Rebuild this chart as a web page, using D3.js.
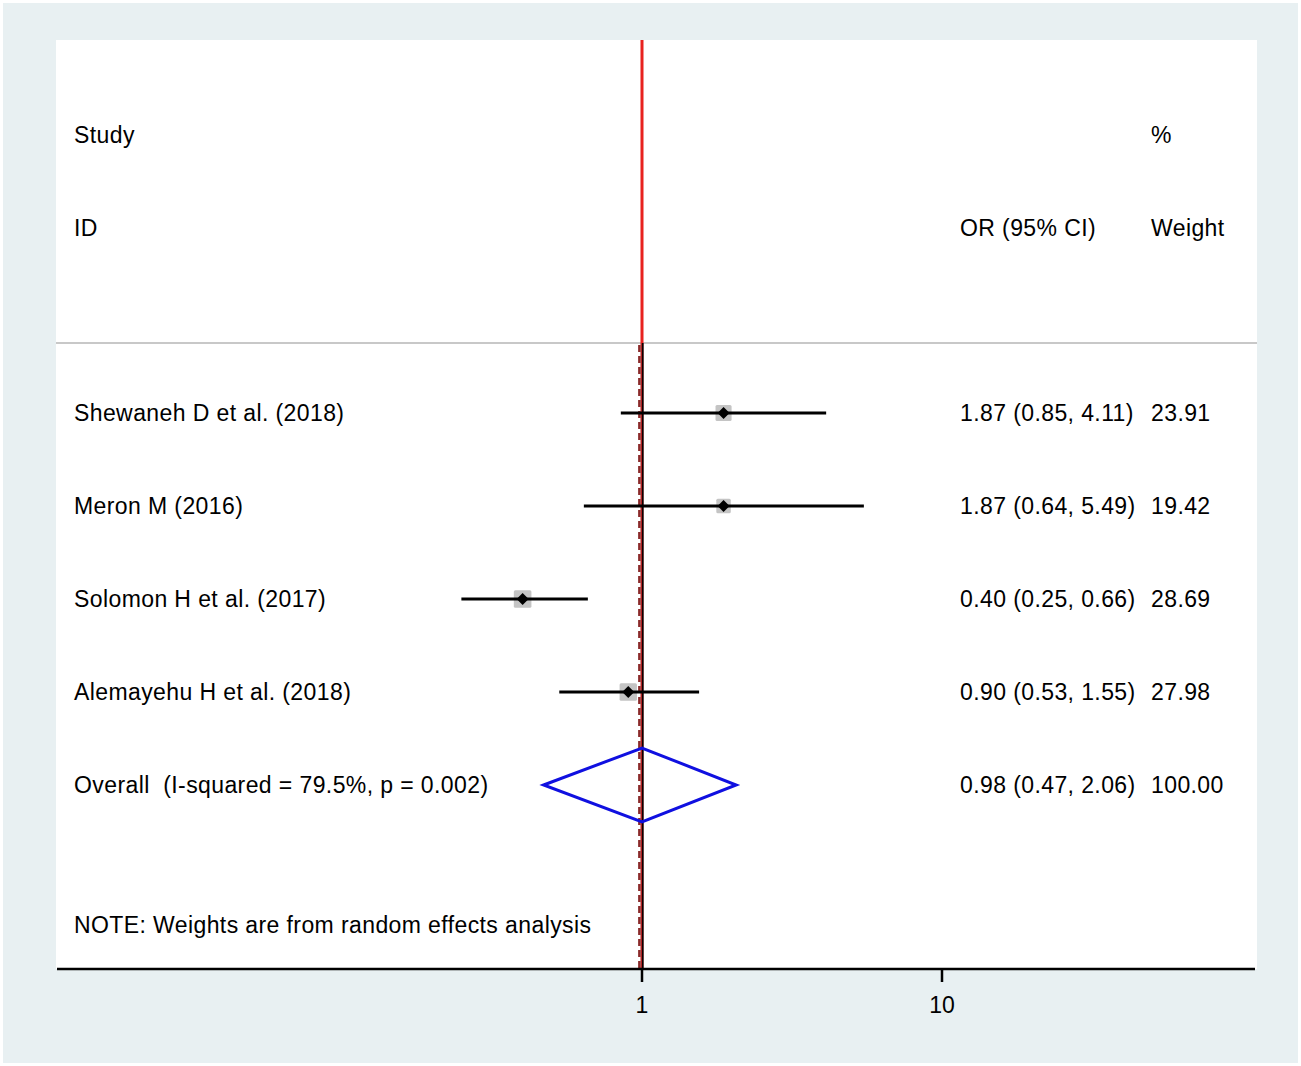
<!DOCTYPE html>
<html><head><meta charset="utf-8">
<script src="https://cdn.jsdelivr.net/npm/d3@7"></script>
<style>body{margin:0;background:#fff;}svg{display:block;font-family:"Liberation Sans",Arial,Helvetica,sans-serif;}text{white-space:pre;}</style>
</head><body>
<svg id="c" width="1301" height="1066"></svg>
<script>
const studies = ["Shewaneh D et al. (2018)", "Meron M (2016)", "Solomon H et al. (2017)", "Alemayehu H et al. (2018)"];
const or = [1.87, 1.87, 0.40, 0.90];
const lo = [0.85, 0.64, 0.25, 0.53];
const hi = [4.11, 5.49, 0.66, 1.55];
const weights = [23.91, 19.42, 28.69, 27.98];
const overallLabel = "Overall  (I-squared = 79.5%, p = 0.002)";
const overall = {or: 0.98, lo: 0.47, hi: 2.06, w: "100.00"};
const tickVals = [1, 10];

const svg = d3.select("#c");
svg.append("rect").attr("x",3).attr("y",3).attr("width",1295).attr("height",1060).attr("fill","#e8f0f2");
svg.append("rect").attr("x",56).attr("y",40).attr("width",1201).attr("height",929).attr("fill","#fff");

const x = d3.scaleLog().domain([1,10]).range([642,942]);
const rowY = d3.scaleLinear().domain([0,1]).range([413,506]);
const fs = 23;

function txt(s, xx, yy, anchor){
  svg.append("text").attr("x",xx).attr("y",yy).attr("dy","0.33em").attr("font-size",fs).attr("fill","#000")
    .attr("letter-spacing",0.4).attr("text-anchor",anchor||"start").text(s);
}
txt("Study",74,135); txt("ID",74,228); txt("%",1151,135); txt("OR (95% CI)",960,228); txt("Weight",1151,228);

// separator
svg.append("line").attr("x1",56).attr("x2",1257).attr("y1",343).attr("y2",343).attr("stroke","#c8c8c8").attr("stroke-width",2);

// null line
svg.append("line").attr("x1",x(1)).attr("x2",x(1)).attr("y1",40).attr("y2",343).attr("stroke","#e8221f").attr("stroke-width",3);
svg.append("line").attr("x1",x(1)).attr("x2",x(1)).attr("y1",343).attr("y2",969).attr("stroke","#b02020").attr("stroke-width",3);
svg.append("line").attr("x1",x(1)+0.8).attr("x2",x(1)+0.8).attr("y1",343).attr("y2",969).attr("stroke","#000").attr("stroke-width",1.5);
// overall dashed line
svg.append("line").attr("x1",x(overall.or)).attr("x2",x(overall.or)).attr("y1",345).attr("y2",969)
  .attr("stroke","#8a2a2a").attr("stroke-width",2.5).attr("stroke-dasharray","7,4");

const fmt = d3.format(".2f");
const sz = d3.scaleSqrt().domain([0,30]).range([0,18]);
studies.forEach((s,i)=>{
  const y = rowY(i);
  txt(s,74,y);
  txt(`${fmt(or[i])} (${fmt(lo[i])}, ${fmt(hi[i])})`,960,y);
  txt(fmt(weights[i]),1151,y);
  const w = sz(weights[i]);
  svg.append("rect").attr("x",x(or[i])-w/2).attr("y",y-w/2).attr("width",w).attr("height",w).attr("fill","#c4c4c4").attr("rx",1.5);
  svg.append("line").attr("x1",x(lo[i])).attr("x2",x(hi[i])).attr("y1",y).attr("y2",y).attr("stroke","#000").attr("stroke-width",3);
  const d=6;
  svg.append("path").attr("d",`M${x(or[i])},${y-d}L${x(or[i])+d},${y}L${x(or[i])},${y+d}L${x(or[i])-d},${y}Z`).attr("fill","#000");
});

const oy = rowY(4);
txt(overallLabel,74,oy);
txt(`${fmt(overall.or)} (${fmt(overall.lo)}, ${fmt(overall.hi)})`,960,oy);
txt(overall.w,1151,oy);
svg.append("path").attr("d",`M${x(overall.lo)},${oy}L${x(1)},${oy-37}L${x(overall.hi)},${oy}L${x(1)},${oy+37}Z`)
  .attr("fill","none").attr("stroke","#1010e0").attr("stroke-width",3).attr("stroke-linejoin","miter");

txt("NOTE: Weights are from random effects analysis",74,925);

// axis
const ax = svg.append("g").attr("transform","translate(0,969)");
ax.append("line").attr("x1",57).attr("x2",1255).attr("y1",0).attr("y2",0).attr("stroke","#000").attr("stroke-width",2.5);
tickVals.forEach(t=>{
  ax.append("line").attr("x1",x(t)).attr("x2",x(t)).attr("y1",0).attr("y2",13).attr("stroke","#000").attr("stroke-width",2.5);
  ax.append("text").attr("x",x(t)).attr("y",36).attr("dy","0.33em").attr("text-anchor","middle").attr("font-size",fs).text(t);
});
</script>
</body></html>
